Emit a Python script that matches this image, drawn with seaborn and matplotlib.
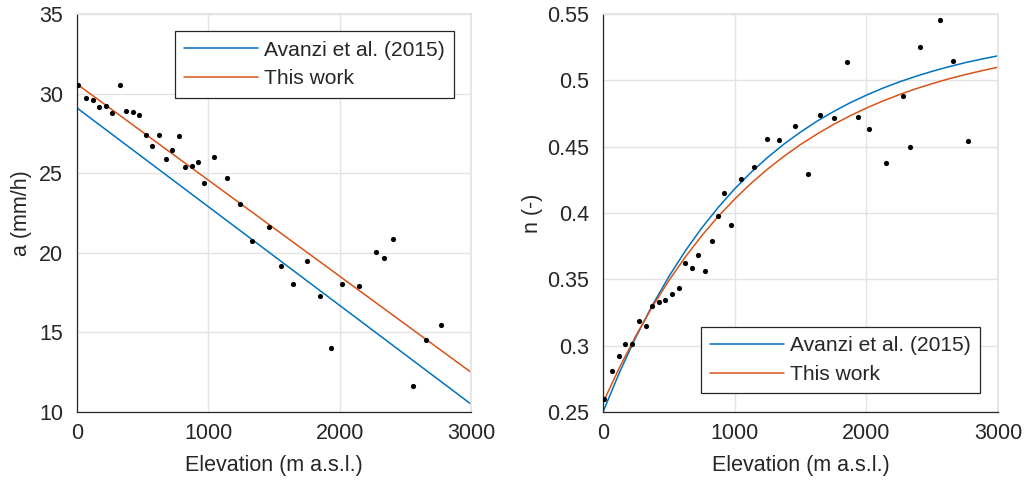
import numpy as np
import pandas as pd
import seaborn as sns
import matplotlib
matplotlib.use("Agg")
import matplotlib.pyplot as plt

# station elevations (m a.s.l.), shared by both panels
elevation = [10, 70, 120, 170, 220, 270, 325, 375, 425, 470, 525, 575, 625,
             675, 725, 775, 825, 875, 920, 970, 1045, 1145, 1245, 1335, 1460,
             1555, 1645, 1755, 1850, 1935, 2020, 2150, 2275, 2335, 2410, 2560,
             2655, 2770]

a_obs = [30.54, 29.7, 29.6, 29.14, 29.22, 28.8, 30.56, 28.9, 28.84, 28.63,
         27.38, 26.73, 27.38, 25.9, 26.48, 27.36, 25.37, 25.47, 25.68, 24.38,
         26.04, 24.68, 23.08, 20.76, 21.64, 19.19, 18.02, 19.5, 17.27, 14.0,
         18.06, 17.91, 20.03, 19.65, 20.85, 11.65, 14.54, 15.44]

n_obs = [0.2597, 0.2808, 0.2926, 0.3011, 0.3011, 0.3185, 0.3147, 0.3298,
         0.333, 0.3341, 0.3388, 0.3434, 0.362, 0.3587, 0.368, 0.3564, 0.3788,
         0.3974, 0.4152, 0.3909, 0.4258, 0.4348, 0.456, 0.4547, 0.4655,
         0.4293, 0.4738, 0.4713, 0.5138, 0.4726, 0.4633, 0.4374, 0.4884,
         0.4497, 0.5251, 0.5457, 0.5148, 0.4542]

# fitted lines for a (values read at both ends)
a_line_z = [0, 3000]
a_avanzi = [29.1, 10.5]
a_this = [30.6, 12.5]

# fitted curves for n, read every 125 m
n_curve_z = list(range(0, 3001, 125))
n_avanzi = [0.250, 0.2798, 0.3065, 0.3305, 0.3520, 0.3714, 0.3887, 0.4042,
            0.4182, 0.4307, 0.4419, 0.4520, 0.4610, 0.4692, 0.4764, 0.4830,
            0.4888, 0.4941, 0.4988, 0.5030, 0.5068, 0.5102, 0.5133, 0.5160,
            0.5185]
n_this = [0.257, 0.2835, 0.3075, 0.3293, 0.3490, 0.3668, 0.3829, 0.3974,
          0.4105, 0.4224, 0.4331, 0.4428, 0.4516, 0.4595, 0.4667, 0.4732,
          0.4791, 0.4844, 0.4892, 0.4936, 0.4975, 0.5011, 0.5043, 0.5072,
          0.5099]

labels = ["Avanzi et al. (2015)", "This work"]
colors = ["#0072BD", "#D95319"]

sns.set_theme(style="white")
plt.rcParams["font.family"] = ["Liberation Sans", "DejaVu Sans"]
plt.rcParams["font.size"] = 15

fig = plt.figure(figsize=(10.26, 4.88), dpi=100)
ax1 = fig.add_axes([0.0750, 0.1557, 0.3840, 0.8156])
ax2 = fig.add_axes([0.5877, 0.1557, 0.3850, 0.8156])

lines_a = pd.DataFrame({"z": a_line_z * 2,
                        "v": a_avanzi + a_this,
                        "model": [labels[0]] * 2 + [labels[1]] * 2})
lines_n = pd.DataFrame({"z": n_curve_z * 2,
                        "v": n_avanzi + n_this,
                        "model": [labels[0]] * len(n_curve_z) + [labels[1]] * len(n_curve_z)})
obs = pd.DataFrame({"z": elevation, "a": a_obs, "n": n_obs})

sns.lineplot(data=lines_a, x="z", y="v", hue="model", palette=colors,
             linewidth=1.1, ax=ax1, sort=False)
sns.scatterplot(data=obs, x="z", y="a", color="black", s=14, linewidth=0,
                ax=ax1, zorder=5)
sns.lineplot(data=lines_n, x="z", y="v", hue="model", palette=colors,
             linewidth=1.1, ax=ax2, sort=False)
sns.scatterplot(data=obs, x="z", y="n", color="black", s=14, linewidth=0,
                ax=ax2, zorder=5)

ax1.set_ylim(10, 35)
ax1.set_yticks([10, 15, 20, 25, 30, 35])
ax1.set_ylabel("a (mm/h)", fontsize=15.5, labelpad=5)
ax2.set_ylim(0.25, 0.55)
ax2.set_yticks([0.25, 0.3, 0.35, 0.4, 0.45, 0.5, 0.55])
ax2.set_yticklabels(["0.25", "0.3", "0.35", "0.4", "0.45", "0.5", "0.55"])
ax2.set_ylabel("n (-)", fontsize=15.5, labelpad=3)

for ax, loc in [(ax1, (0.249, 0.79)), (ax2, (0.248, 0.047))]:
    ax.set_xlim(0, 3000)
    ax.set_xticks([0, 1000, 2000, 3000])
    ax.set_xlabel("Elevation (m a.s.l.)", fontsize=15.5, labelpad=8)
    ax.grid(True, color="#e3e3e3", linewidth=1.0)
    ax.set_axisbelow(True)
    for side in ["top", "right"]:
        ax.spines[side].set_color("#e3e3e3")
    for side in ["left", "bottom"]:
        ax.spines[side].set_color("#262626")
        ax.spines[side].set_linewidth(0.9)
    ax.tick_params(direction="in", length=4, width=0.9, color="#262626",
                   labelsize=15.5, labelcolor="#262626")
    ax.tick_params(axis="x", pad=8)
    ax.tick_params(axis="y", pad=10)
    ax.xaxis.label.set_color("#262626")
    ax.yaxis.label.set_color("#262626")
    handles, _ = ax.get_legend_handles_labels()
    leg = ax.legend(handles[:2], labels, loc="lower left", bbox_to_anchor=loc,
                    fontsize=15.1, frameon=True, fancybox=False,
                    edgecolor="#262626", framealpha=1, handlelength=3.5,
                    handletextpad=0.3, borderpad=0.45, labelspacing=0.45,
                    borderaxespad=0)
    leg.get_frame().set_linewidth(0.9)

fig.savefig("out.png", dpi=100)
